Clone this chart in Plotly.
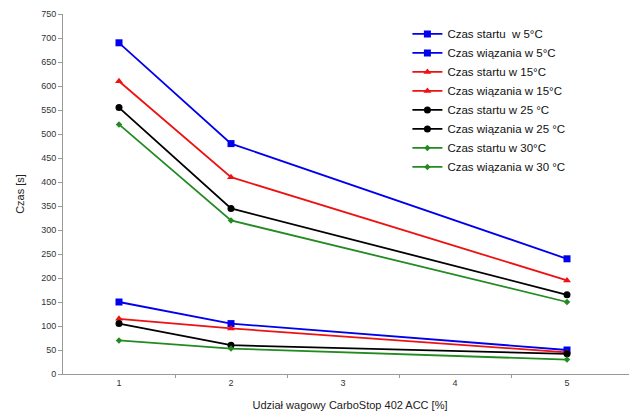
import plotly.graph_objects as go

x_vals = [1, 2, 5]
series_names = [
    "Czas startu  w 5°C", "Czas wiązania w 5°C",
    "Czas startu w 15°C", "Czas wiązania w 15°C",
    "Czas startu w 25 °C", "Czas wiązania w 25 °C",
    "Czas startu w 30°C", "Czas wiązania w 30 °C",
]
start_5 = [150, 105, 50]
set_5 = [690, 480, 240]
start_15 = [115, 95, 45]
set_15 = [610, 410, 195]
start_25 = [105, 60, 42]
set_25 = [555, 345, 165]
start_30 = [70, 53, 30]
set_30 = [520, 320, 150]
series_values = [start_5, set_5, start_15, set_15, start_25, set_25, start_30, set_30]
x_tick_labels = ["1", "2", "3", "4", "5"]

colors = ["#0000ee", "#0000ee", "#ee1111", "#ee1111", "#000000", "#000000", "#228b22", "#228b22"]
symbols = ["square", "square", "triangle-up", "triangle-up", "circle", "circle", "diamond", "diamond"]
sizes = [7, 7, 7, 7, 7, 7, 5, 5]

fig = go.Figure()
for name, vals, c, s, sz in zip(series_names, series_values, colors, symbols, sizes):
    fig.add_trace(go.Scatter(
        x=x_vals, y=vals, name=name, mode="lines+markers",
        line=dict(color=c, width=1.8),
        marker=dict(color=c, symbol=s, size=sz),
    ))

font_family = "Liberation Sans, Arial, sans-serif"
fig.update_layout(
    width=629, height=404,
    margin=dict(l=55, r=0, t=6, b=38),
    paper_bgcolor="white", plot_bgcolor="white",
    font=dict(family=font_family, color="#222"),
    showlegend=True,
    legend=dict(
        x=0.6, y=0.985, xanchor="left", yanchor="top",
        font=dict(size=11.5, color="#111"),
        bgcolor="rgba(0,0,0,0)", tracegroupgap=0,
        itemwidth=30,
    ),
    xaxis=dict(
        range=[0.5, 5.625],
        tickvals=[1, 2, 3, 4, 5], ticktext=x_tick_labels,
        ticks="", showgrid=False, zeroline=False,
        showline=True, linecolor="#999", linewidth=1,
        tickfont=dict(size=9, color="#333"),
        minor=dict(tickvals=[1.5, 2.5, 3.5, 4.5], ticks="outside", ticklen=3, tickcolor="#999"),
        title=dict(text="Udział wagowy CarboStop 402 ACC [%]", font=dict(size=11, color="#222"), standoff=14),
    ),
    yaxis=dict(
        range=[0, 750], tickvals=list(range(0, 751, 50)),
        ticks="outside", ticklen=4, tickcolor="#999",
        showgrid=False, zeroline=False,
        showline=True, linecolor="#999", linewidth=1,
        tickfont=dict(size=9, color="#333"),
        title=dict(text="Czas [s]", font=dict(size=11, color="#222"), standoff=14),
    ),
)

fig.write_html("out.html")
